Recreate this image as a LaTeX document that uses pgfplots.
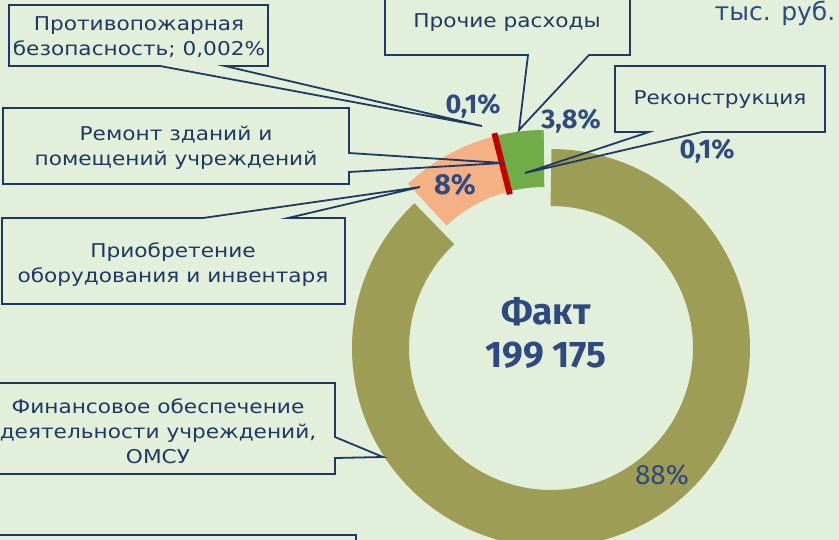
\documentclass[border=0pt]{standalone}
\usepackage{pgfplots}
\pgfplotsset{compat=1.18}
\usepackage{fontspec}
\setmainfont{DejaVu Sans}
\newfontfamily\callfont{DejaVu Sans}[FakeStretch=1.14]
\newfontfamily\labfont{Fira Sans}[Numbers={Proportional,Lining}]
\definecolor{bg}{HTML}{E2EFDA}
\definecolor{olivec}{HTML}{9E9D55}
\definecolor{salmonc}{HTML}{F4B183}
\definecolor{greenc}{HTML}{70AD47}
\definecolor{redc}{HTML}{C00000}
\definecolor{navy}{HTML}{1F3864}
\definecolor{lab}{HTML}{2F4A80}
% shares, %
\def\vFin{88}
\def\vEq{8}
\def\vRep{0.1}
\def\vOth{3.8}
\def\vRec{0.1}
\def\vFire{0.002}
\begin{document}
\begin{tikzpicture}
\pgfmathsetmacro{\tot}{\vFin+\vEq+\vRep+\vOth+\vRec+\vFire}
\pgfmathsetmacro{\aO}{90}
\pgfmathsetmacro{\aA}{\aO-(\vFin/\tot)*360}
\pgfmathsetmacro{\aB}{\aA-(\vEq/\tot)*360}
\pgfmathsetmacro{\aC}{\aB-(\vRep/\tot)*360}
\pgfmathsetmacro{\aD}{\aC-(\vOth/\tot)*360}
\pgfmathsetmacro{\aE}{\aD-(\vRec/\tot)*360}
\pgfmathsetmacro{\aRed}{(\aB+\aC)/2}
\fill[bg] (0,0) rectangle (839bp,540bp);
\begin{axis}[at={(0,0)}, anchor=south west, scale only axis, width=839bp, height=540bp,
  xmin=0, xmax=839, ymin=0, ymax=540, y dir=reverse, hide axis, clip=true]
% main slice
\addplot[draw=olivec, line width=57bp, line cap=butt, line join=round, no markers, domain=\aA:\aO, samples=160, variable=\t]
  ({551+170.5*cos(\t)}, {348-170.5*sin(\t)});
% exploded slices
\addplot[draw=salmonc, line width=57bp, line cap=butt, no markers, domain=\aB:\aA, samples=40, variable=\t]
  ({544+170.5*cos(\t)}, {329-170.5*sin(\t)});
\addplot[draw=greenc, line width=57bp, line cap=butt, no markers, domain=\aD:\aC, samples=30, variable=\t]
  ({544+170.5*cos(\t)}, {329-170.5*sin(\t)});
\addplot[draw=greenc!80!olivec, line width=57bp, line cap=butt, no markers, domain=\aE:\aD, samples=2, variable=\t]
  ({544+170.5*cos(\t)}, {329-170.5*sin(\t)});
\addplot[draw=redc, line width=6bp, line cap=butt, no markers, domain=139:202, samples=2, variable=\t]
  ({544+\t*cos(\aRed)}, {329-\t*sin(\aRed)});
% callouts
\begin{scope}[navy, line width=1.8bp, line join=miter]
\draw (9,5) -- (268,5) -- (268,66) -- (225,66) -- (482,126) -- (160,66) -- (9,66) -- cycle;
\draw (3,108) -- (349,108) -- (349,153) -- (503,163) -- (349,172) -- (349,184) -- (3,184) -- cycle;
\draw (2,218) -- (203,218) -- (420,187) -- (288,218) -- (345,218) -- (345,304) -- (2,304) -- cycle;
\draw (-5,383) -- (335,383) -- (335,437) -- (383,457) -- (335,458) -- (335,474) -- (-5,474) -- cycle;
\draw (385,-5) -- (630,-5) -- (630,55) -- (589,55) -- (519,130) -- (528,55) -- (385,55) -- cycle;
\draw (615,66) -- (825,66) -- (825,132) -- (702,132) -- (525,173) -- (649,132) -- (615,132) -- cycle;
\draw (-5,535) -- (356,535) -- (356,560) -- (-5,560) -- cycle;
\end{scope}
\begin{scope}[every node/.style={text=navy, align=center, inner sep=0pt, font=\callfont\fontsize{19bp}{25bp}\selectfont}]
\node at (139,37) {Противопожарная\\безопасность; 0,002\%};
\node at (176,148) {Ремонт зданий и\\помещений учреждений};
\node at (173,265) {Приобретение\\оборудования и инвентаря};
\node at (158,431) {Финансовое обеспечение\\деятельности учреждений,\\ОМСУ};
\node at (507,23) {Прочие расходы};
\node at (720,100) {Реконструкция};
\end{scope}
\begin{scope}[every node/.style={text=lab, inner sep=0pt, font=\labfont\bfseries\fontsize{27bp}{30bp}\selectfont}]
\node at (473,106) {0,1\%};
\node at (571,121) {3,8\%};
\node at (707,151) {0,1\%};
\node[font=\labfont\bfseries\fontsize{29bp}{30bp}\selectfont] at (455,185) {8\%};
\node[font=\labfont\fontsize{28bp}{30bp}\selectfont] at (662,475) {88\%};
\node[font=\labfont\bfseries\fontsize{37bp}{44bp}\selectfont] at (546,312) {Факт};
\node[font=\labfont\bfseries\fontsize{37bp}{44bp}\selectfont] at (546,355) {199 175};
\node[font=\fontsize{25bp}{30bp}\selectfont, anchor=base] at (775,20) {тыс. руб.};
\end{scope}
\end{axis}
\pgfresetboundingbox
\useasboundingbox (0,0) rectangle (839bp,540bp);
\end{tikzpicture}
\end{document}
